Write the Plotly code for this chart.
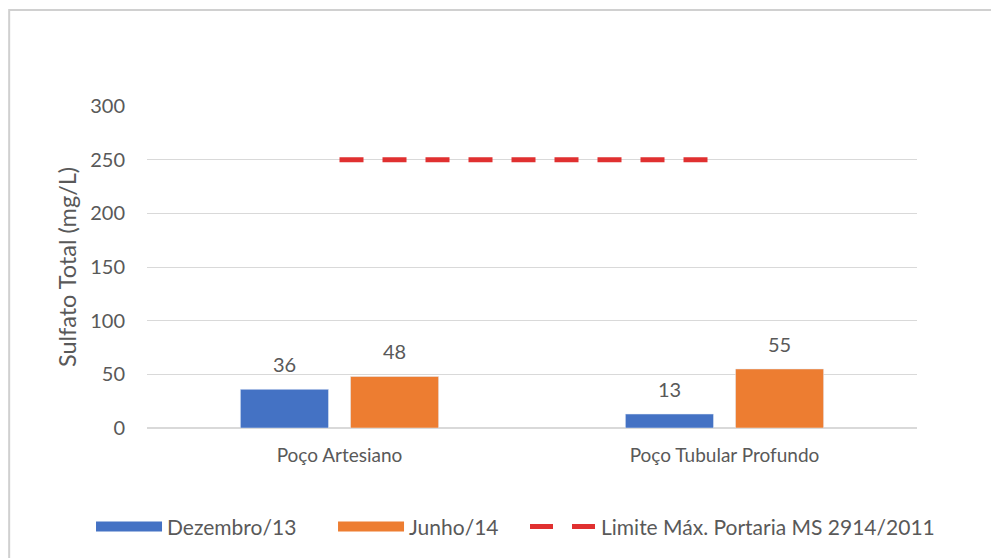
import plotly.graph_objects as go

categorias = ["Poço Artesiano", "Poço Tubular Profundo"]
dezembro_13 = [36, 13]
junho_14 = [48, 55]
limite = [250, 250]

FONT = "Lato, Liberation Sans, Arial"
GRAY = "#595959"
AZUL = "#4472C4"
LARANJA = "#ED7D31"
VERMELHO = "#E03030"

fig = go.Figure()
fig.add_trace(go.Bar(x=categorias, y=dezembro_13, name="Dezembro/13",
                     marker_color=AZUL, showlegend=False))
fig.add_trace(go.Bar(x=categorias, y=junho_14, name="Junho/14",
                     marker_color=LARANJA, showlegend=False))
fig.add_trace(go.Scatter(x=categorias, y=limite, name="Limite Máx. Portaria MS 2914/2011",
                         mode="lines", showlegend=False,
                         line=dict(color=VERMELHO, width=5, dash="24px,19px")))

# legend entries (wide rectangles like the original), each in its own legend box
fig.add_trace(go.Scatter(x=[None], y=[None], mode="lines", name="Dezembro/13",
                         line=dict(color=AZUL, width=12), legend="legend"))
fig.add_trace(go.Scatter(x=[None], y=[None], mode="lines", name="Junho/14",
                         line=dict(color=LARANJA, width=12), legend="legend2"))
fig.add_trace(go.Scatter(x=[None], y=[None], mode="lines", name="Limite Máx. Portaria MS 2914/2011",
                         line=dict(color=VERMELHO, width=5, dash="23px,19px"), legend="legend3"))

# data labels
for serie, shift in ((dezembro_13, -55), (junho_14, 55)):
    for cat, val in zip(categorias, serie):
        fig.add_annotation(x=cat, y=val, text=str(val), showarrow=False,
                           xshift=shift, yshift=11, yanchor="bottom",
                           font=dict(size=20, color=GRAY, family=FONT))

leg = dict(orientation="h", xanchor="left", y=-0.307, yanchor="middle",
           font=dict(size=21, color=GRAY), itemwidth=66, bgcolor="rgba(0,0,0,0)")

fig.update_layout(
    width=999, height=558,
    paper_bgcolor="white", plot_bgcolor="white",
    margin=dict(l=139, r=90, t=98, b=138),
    barmode="group", bargap=0.428, bargroupgap=0.2,
    font=dict(family=FONT, color=GRAY, size=18),
    showlegend=True,
    legend=dict(leg, x=-0.0727),
    legend2=dict(leg, x=0.2416),
    legend3=dict(leg, x=0.4909),
)
fig.update_yaxes(range=[0, 300], dtick=50, showgrid=True, gridcolor="#D9D9D9", gridwidth=1,
                 zeroline=True, zerolinecolor="#D9D9D9", showline=False,
                 tickfont=dict(size=20, color=GRAY), ticks="", ticklabelstandoff=21,
                 title=dict(text="Sulfato Total (mg/L)", font=dict(size=23.5, color=GRAY), standoff=6))
fig.update_xaxes(showline=True, linecolor="#D9D9D9", showgrid=False, ticks="",
                 ticklabelstandoff=10, tickfont=dict(size=19, color=GRAY))
fig.add_shape(type="rect", xref="paper", yref="paper", x0=-0.179, x1=1.3, y0=-0.6, y1=1.298,
              line=dict(color="#D0D0D0", width=2), fillcolor="rgba(0,0,0,0)", layer="below")

fig.write_html("out.html")
